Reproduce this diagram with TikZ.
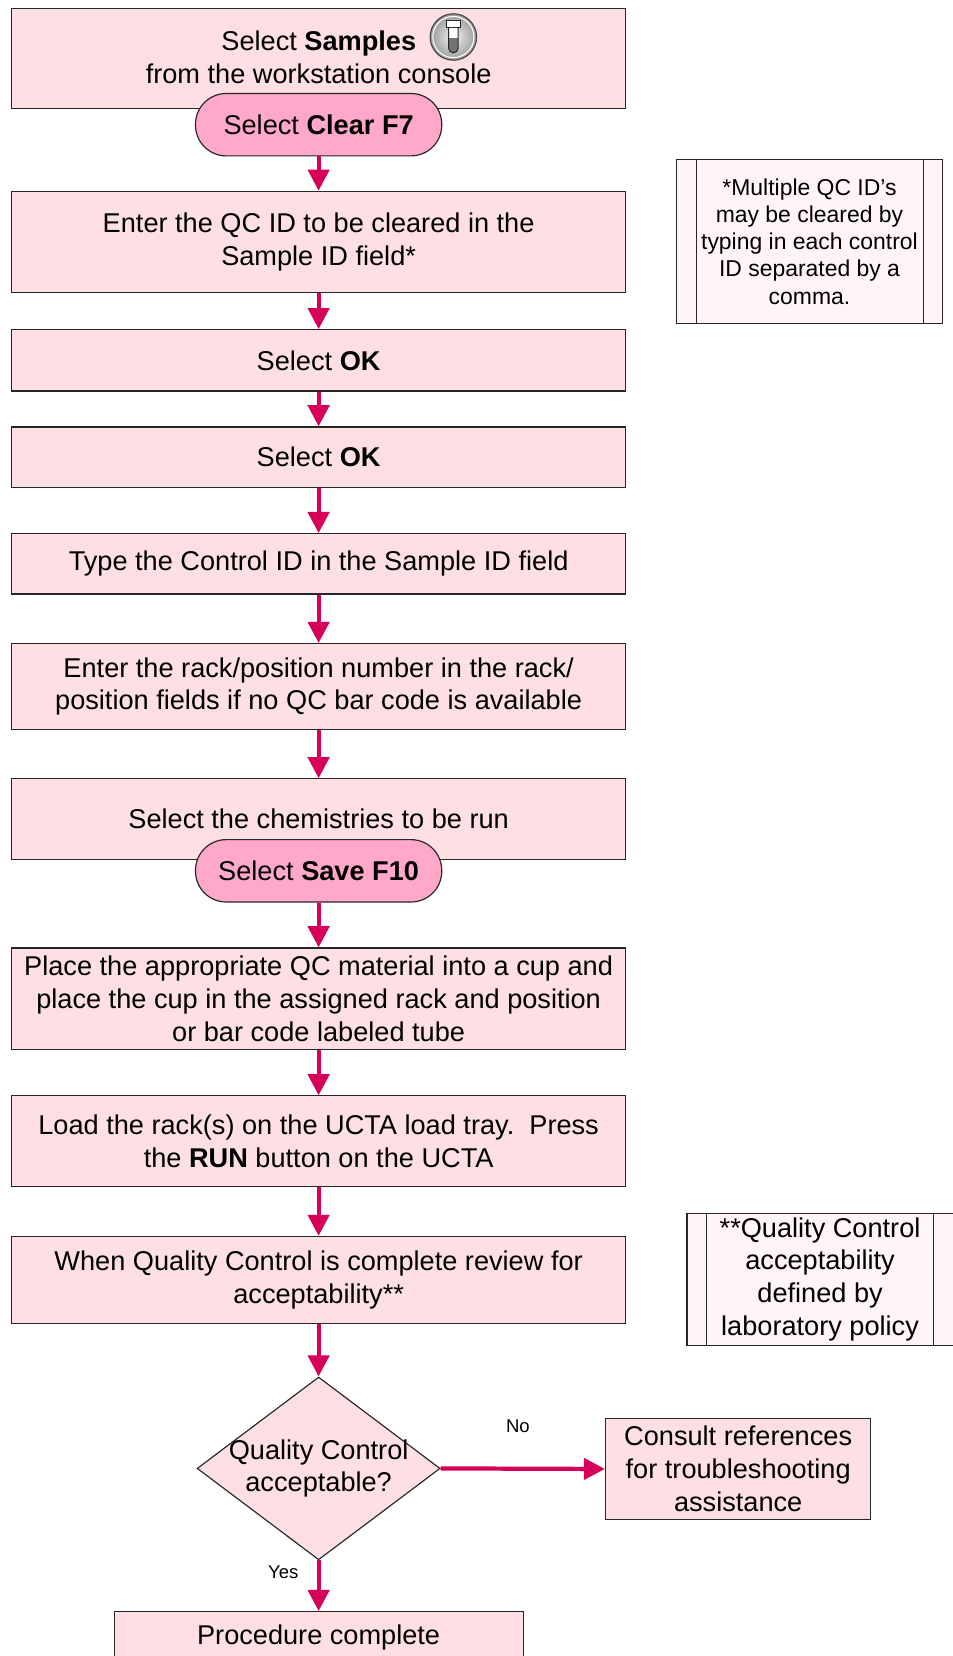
\documentclass[tikz,border=0pt]{standalone}
\usepackage{fontspec}
\setmainfont{Liberation Sans}
\usetikzlibrary{shapes.geometric, arrows.meta}
\definecolor{boxpink}{RGB}{254,224,228}
\definecolor{stadpink}{RGB}{255,168,202}
\definecolor{arrowred}{RGB}{214,0,90}
\definecolor{notepink}{RGB}{255,244,246}
\newcommand\fsmain{\fontsize{25.7}{31}\selectfont}
\newcommand\fsnote{\fontsize{21.7}{25.7}\selectfont}
\newcommand\fslab{\fontsize{17.5}{20}\selectfont}
\begin{document}
\begin{tikzpicture}[x=1pt,y=-1pt,
 stepbox/.style={draw=black!85, line width=1.1pt, fill=boxpink, minimum width=581pt, inner sep=0pt, align=center, font=\fsmain},
 stadium/.style={draw=black!85, line width=1.1pt, fill=stadpink, rounded corners=29pt, minimum width=233pt, minimum height=59pt, inner sep=0pt, font=\fsmain},
 flow/.style={draw=arrowred, line width=4pt, -{Triangle[width=20pt,length=20pt]}},
 note/.style={draw=black!85, line width=1.1pt, fill=notepink, minimum width=252pt, inner sep=0pt, align=center},
 noteline/.style={draw=black!85, line width=1.1pt},
 lab/.style={font=\fslab, inner sep=0pt},
]
\useasboundingbox (0,0) rectangle (901,1567);

% step 1 with icon
\node[stepbox, minimum height=95pt] (b1) at (301.5,55.5) {};
\node[font=\fsmain, anchor=base east, inner sep=0pt] (t1a) at (394,48) {Select \textbf{Samples}};
\node[font=\fsmain, anchor=base, inner sep=0pt] (t1b) at (301.5,79) {from the workstation console};
% icon
\shade[inner color=black!5, outer color=black!40] (429,35) circle (22);
\draw[black!75, line width=1pt] (429,35) circle (22);
\draw[white, line width=1pt] (429,35) circle (19.5);
\fill[white] (424.5,26) -- (424.5,45.5) arc[start angle=180,end angle=0,radius=4.5] -- (433.5,26) -- cycle;
\fill[black!55] (424.5,36) -- (424.5,45.5) arc[start angle=180,end angle=0,radius=4.5] -- (433.5,36) -- cycle;
\draw[black!85, line width=1pt] (424.5,26) -- (424.5,45.5) arc[start angle=180,end angle=0,radius=4.5] -- (433.5,26);
\draw[black!85, fill=white, line width=1pt] (422.5,19) rectangle (435.5,26);

\node[stadium] (s1) at (301.5,118) {Select \textbf{Clear F7}};

\node[stepbox, minimum height=96pt] (b2) at (301.5,229) {Enter the QC ID to be cleared in the\\Sample ID field*};
\node[stepbox, minimum height=58pt] (b3) at (301.5,341) {Select \textbf{OK}};
\node[stepbox, minimum height=57pt] (b4) at (301.5,432.5) {Select \textbf{OK}};
\node[stepbox, minimum height=57pt] (b5) at (301.5,533.5) {Type the Control ID in the Sample ID field};
\node[stepbox, minimum height=81pt] (b6) at (301.5,649.5) {Enter the rack/position number in the rack/\\position fields if no QC bar code is available};
\node[stepbox, minimum height=76pt] (b7) at (301.5,775) {Select the chemistries to be run};
\node[stadium] (s2) at (301.5,824) {Select \textbf{Save F10}};
\node[stepbox, minimum height=96pt] (b8) at (301.5,945) {Place the appropriate QC material into a cup and\\place the cup in the assigned rack and position\\or bar code labeled tube};
\node[stepbox, minimum height=86pt] (b9) at (301.5,1080) {Load the rack(s) on the UCTA load tray.\ \ Press\\the \textbf{RUN} button on the UCTA};
\node[stepbox, minimum height=82pt] (b10) at (301.5,1211) {When Quality Control is complete review for\\acceptability**};

\node[diamond, draw=black!85, line width=1.1pt, fill=boxpink, minimum width=230pt, minimum height=173pt, inner sep=0pt] (dec) at (301.5,1389.5) {};
\node[font=\fsmain, align=center, inner sep=0pt] (dect) at (301.5,1389.5) {Quality Control\\acceptable?};

\node[stepbox, minimum width=251pt, minimum height=96pt] (consult) at (698.5,1390) {Consult references\\for troubleshooting\\assistance};
\node[stepbox, minimum width=387pt, minimum height=48pt] (proc) at (301.5,1549) {Procedure complete};

% side notes
\node[note, minimum height=155pt, font=\fsnote] (n1) at (766,228.5) {*Multiple QC ID's\\may be cleared by\\typing in each control\\ID separated by a\\comma.};
\draw[noteline] ([xshift=20pt]n1.north west) -- ([xshift=20pt]n1.south west);
\draw[noteline] ([xshift=-19pt]n1.north east) -- ([xshift=-19pt]n1.south east);
\node[note, minimum height=125pt, font=\fsmain] (n2) at (776,1210.5) {**Quality Control\\acceptability\\defined by\\laboratory policy};
\draw[noteline] ([xshift=19pt]n2.north west) -- ([xshift=19pt]n2.south west);
\draw[noteline] ([xshift=-19pt]n2.north east) -- ([xshift=-19pt]n2.south east);

% connectors
\draw[flow] (s1.south) -- (b2.north);
\draw[flow] (b2.south) -- (b3.north);
\draw[flow] (b3.south) -- (b4.north);
\draw[flow] (b4.south) -- (b5.north);
\draw[flow] (b5.south) -- (b6.north);
\draw[flow] (b6.south) -- (b7.north);
\draw[flow] (s2.south) -- (b8.north);
\draw[flow] (b8.south) -- (b9.north);
\draw[flow] (b9.south) -- (b10.north);
\draw[flow] (b10.south) -- (dec.north);
\draw[flow] (dec.east) -- (consult.west);
\draw[flow] (dec.south) -- (proc.north);
\node[lab] (no) at (490,1350) {No};
\node[lab] (yes) at (268,1488) {Yes};
\end{tikzpicture}
\end{document}
